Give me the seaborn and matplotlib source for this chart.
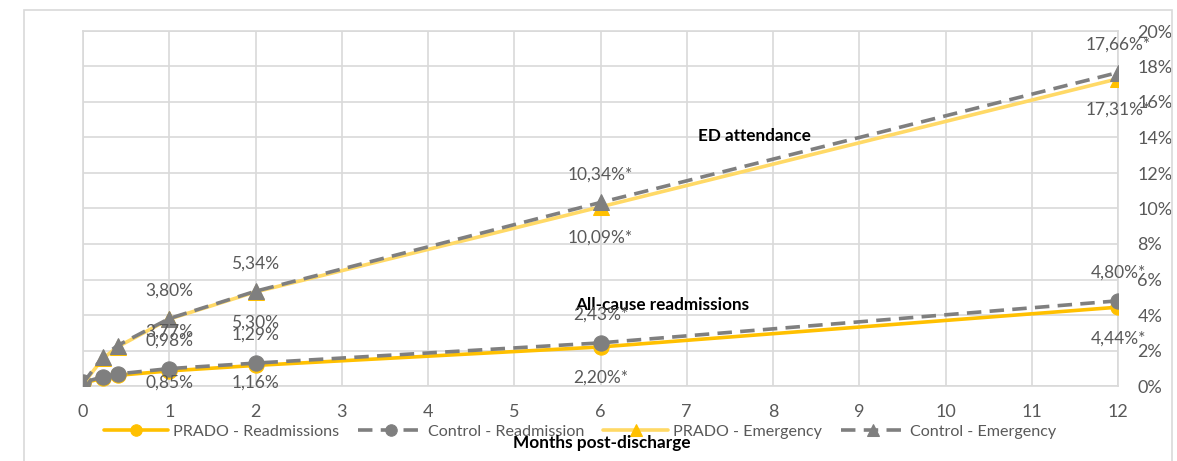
import numpy as np
import pandas as pd
import matplotlib.pyplot as plt
from matplotlib.patches import Rectangle
from matplotlib.ticker import FuncFormatter, MultipleLocator
import seaborn as sns

sns.set_theme(style="white")
plt.rcParams["font.family"] = ["Lato", "DejaVu Sans"]

# ── Data ────────────────────────────────────────────────────────────────────
months = [0, 0.23, 0.4, 1, 2, 6, 12]
prado_readm = [0.15, 0.45, 0.60, 0.85, 1.16, 2.20, 4.44]
control_readm = [0.20, 0.52, 0.68, 0.98, 1.29, 2.43, 4.80]
prado_emerg = [0.10, 1.55, 2.20, 3.77, 5.30, 10.09, 17.31]
control_emerg = [0.15, 1.65, 2.28, 3.80, 5.34, 10.34, 17.66]

prado_readm_lbl = ["", "", "", "0,85%", "1,16%", "2,20%*", "4,44%*"]
control_readm_lbl = ["", "", "", "0,98%", "1,29%", "2,43%*", "4,80%*"]
prado_emerg_lbl = ["", "", "", "3,77%", "5,30%", "10,09%*", "17,31%*"]
control_emerg_lbl = ["", "", "", "3,80%", "5,34%", "10,34%*", "17,66%*"]

GOLD = "#FFC000"
LIGHT_GOLD = "#FFD966"
GREY = "#7F7F7F"
TXT = "#595959"
GRID = "#D9D9D9"

W, H = 1177, 461
X0, X1, Y0, Y1 = 83, 1118, 386, 31   # plot area in pixels
fig = plt.figure(figsize=(W / 100, H / 100), dpi=100)
ax = fig.add_axes([X0 / W, 1 - Y0 / H, (X1 - X0) / W, (Y0 - Y1) / H])
px_per_pct = (Y0 - Y1) / 20

# outer chart frame
fig.patches.append(Rectangle((24 / W, -0.05), 1148 / W, 1 - 10 / H + 0.05,
                             transform=fig.transFigure, fill=False,
                             edgecolor=GRID, lw=1.2, zorder=0))

DASH = (0, (4, 2.3))
series = [
    ("PRADO - Readmissions", prado_readm, prado_readm_lbl, GOLD, GOLD, "o", "-", -1),
    ("Control - Readmission", control_readm, control_readm_lbl, GREY, GREY, "o", DASH, 1),
    ("PRADO - Emergency", prado_emerg, prado_emerg_lbl, LIGHT_GOLD, GOLD, "^", "-", -1),
    ("Control - Emergency", control_emerg, control_emerg_lbl, GREY, GREY, "^", DASH, 1),
]

for i, (name, vals, lbls, lc, mc, mk, ls, side) in enumerate(series):
    sns.lineplot(x=months, y=vals, ax=ax, color=lc, linestyle=ls, lw=2.6,
                 marker=mk, markersize=11, markerfacecolor=mc,
                 markeredgecolor=mc, label=name, zorder=3 + i)
    for m, v, t in zip(months, vals, lbls):
        if not t:
            continue
        if side > 0:
            ly = v + 28 / px_per_pct
        else:
            ly = max(v - 31 / px_per_pct, 3 / px_per_pct)
        if t == "3,77%":
            ly = v - 13 / px_per_pct   # Excel nudges this one up
        ax.text(m, ly, t, ha="center", va="center", fontsize=12.5,
                color=TXT, zorder=10, clip_on=False)

ax.text(7.78, 14.1, "ED attendance", ha="center", va="center",
        fontsize=12.3, fontweight="bold", color="black")
ax.text(6.72, 4.56, "All-cause readmissions", ha="center", va="center",
        fontsize=12.3, fontweight="bold", color="black")

ax.set_xlim(0, 12)
ax.set_ylim(0, 20)
ax.xaxis.set_major_locator(MultipleLocator(1))
ax.yaxis.set_major_locator(MultipleLocator(2))
ax.yaxis.tick_right()
ax.yaxis.set_major_formatter(FuncFormatter(lambda v, _: f"{v:.0f}%"))
ax.tick_params(axis="both", length=0, labelsize=13, labelcolor=TXT)
ax.tick_params(axis="x", pad=13)
ax.tick_params(axis="y", pad=14)
ax.grid(True, color=GRID, lw=1.2)
for s in ax.spines.values():
    s.set_color(GRID)
    s.set_linewidth(1.2)
ax.set_xlabel("")
ax.set_ylabel("")

fig.text(602 / W, 1 - 443 / H, "Months post-discharge", ha="center",
         va="center", fontsize=12.4, fontweight="bold", color="black")

ax.legend(loc="center", bbox_to_anchor=((580 - X0) / (X1 - X0), (Y0 - 432) / (Y0 - Y1)),
          ncol=4, frameon=False, fontsize=11.6, labelcolor=TXT, handlelength=4.0,
          columnspacing=1.2, handletextpad=0.3, borderaxespad=0,
          markerscale=0.75)

fig.savefig("out.png", dpi=100)
